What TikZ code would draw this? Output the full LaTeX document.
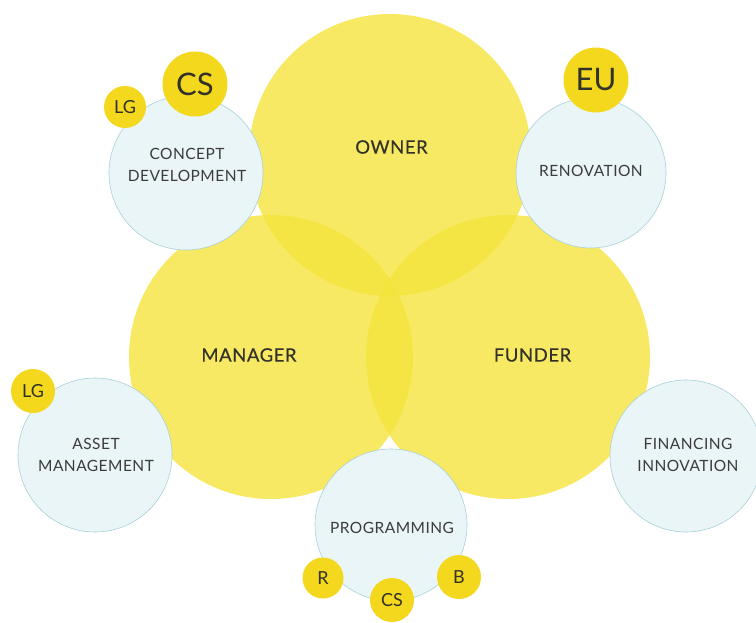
\documentclass[tikz,border=0pt]{standalone}
\usepackage{fontspec}
\setmainfont{Lato}
\newfontfamily\rolefont[LetterSpace=3,FakeBold=0.35]{Lato}
\newfontfamily\areafont[LetterSpace=3]{Lato}
\definecolor{roleyellow}{RGB}{245,228,60}
\definecolor{badgeyellow}{RGB}{243,216,30}
\definecolor{areablue}{RGB}{233,245,247}
\definecolor{areaedge}{RGB}{170,208,216}
\definecolor{labelgray}{RGB}{50,50,40}
\definecolor{arealabelgray}{RGB}{60,60,60}
\tikzset{
  role/.style={circle, fill=roleyellow, fill opacity=0.8, draw=none, minimum size=#1, inner sep=0pt},
  area/.style={circle, fill=areablue, draw=areaedge, line width=0.6pt, minimum size=#1, inner sep=0pt},
  badge/.style={circle, fill=badgeyellow, draw=none, minimum size=#1, inner sep=0pt},
  rolelabel/.style={text=labelgray, font=\rolefont\fontsize{18.5}{20}\selectfont},
  arealabel/.style={text=arealabelgray, align=center, font=\areafont\fontsize{15.5}{22}\selectfont},
  badgelabel/.style={text=labelgray, font=\fontsize{#1}{#1}\selectfont},
}
\begin{document}
\begin{tikzpicture}[x=1pt,y=-1pt]
\useasboundingbox (0,0) rectangle (756,623);
% big role circles
\node[role=282pt] (owner) at (390,155) {};
\node[role=284pt] (manager) at (271,357) {};
\node[role=284pt] (funder) at (508,357) {};
\node[rolelabel] (ownerlbl) at (391.5,147) {OWNER};
\node[rolelabel] (managerlbl) at (249,355) {MANAGER};
\node[rolelabel] (funderlbl) at (532.5,355) {FUNDER};
% blue area circles
\node[area=154pt] (concept) at (186,173) {};
\node[area=150pt] (renovation) at (591,173) {};
\node[area=154pt] (asset) at (95,455) {};
\node[area=152pt] (financing) at (686,456) {};
\node[area=152pt] (programming) at (391,525) {};
\node[arealabel] (conceptlbl) at (187,165) {CONCEPT\\DEVELOPMENT};
\node[arealabel] (renovationlbl) at (591,171) {RENOVATION};
\node[arealabel] (assetlbl) at (96,455) {ASSET\\MANAGEMENT};
\node[arealabel] (financinglbl) at (688,455) {FINANCING\\INNOVATION};
\node[arealabel] (programminglbl) at (392,528) {PROGRAMMING};
% badges
\node[badge=65pt, badgelabel=31] (cs1) at (195,84) {CS};
\node[badge=42pt, badgelabel=18] (lg1) at (125,107) {LG};
\node[badge=65pt, badgelabel=31] (eu) at (596,80) {EU};
\node[badge=44pt, badgelabel=18] (lg2) at (33,391) {LG};
\node[badge=41pt, badgelabel=18] (r) at (323,578) {R};
\node[badge=44pt, badgelabel=18] (cs2) at (392,600) {CS};
\node[badge=44pt, badgelabel=18] (b) at (459,577) {B};
\end{tikzpicture}
\end{document}
